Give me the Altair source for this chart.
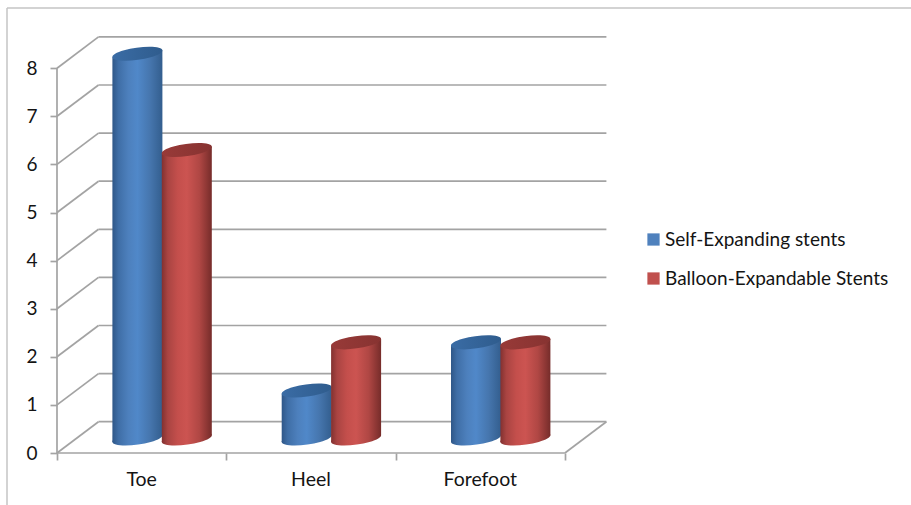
import altair as alt
import pandas as pd

# Chart values
categories = ["Toe", "Heel", "Forefoot"]
series_names = ["Self-Expanding stents", "Balloon-Expandable Stents"]
self_expanding = [8, 1, 2]
balloon_expandable = [6, 2, 2]
y_ticks = [0, 1, 2, 3, 4, 5, 6, 7, 8]
x_ticks = [0, 1, 2, 3]

# Pixel geometry of the pseudo-3D box
PX_CAT = 169.3      # pixels per category slot
PX_VAL = 48.1       # pixels per unit of value
DEPTH_X = 41.5 / PX_CAT
DEPTH_Y = 31.3 / PX_VAL
PLOT_W, PLOT_H = 550, 416
LEFT, TOP = 57, 37
BAR_W = 50 / PX_CAT
TILT = 3.4 / PX_VAL        # slant of the cylinder ends
LIFT = DEPTH_Y / 2 - 1.2 / PX_VAL  # cylinders stand mid-depth on the floor
RED_SHIFT = -0.6 / PX_CAT

FONT = "Lato"
GRID = "#a3a3a3"
FRAME = "#c4c4c4"
TEXT = "#141414"

x_scale = alt.Scale(domain=[0, PLOT_W / PX_CAT], nice=False, zero=False)
y_scale = alt.Scale(domain=[0, PLOT_H / PX_VAL], nice=False, zero=False)
x_axis = alt.Axis(
    values=x_ticks, labels=False, grid=False, domain=False, title=None,
    ticks=True, tickSize=7, tickColor=GRID, tickWidth=1.7,
)
y_axis = alt.Axis(
    values=y_ticks, grid=False, domain=False, title=None,
    tickColor=GRID, tickWidth=1.7, tickSize=7, labelFont=FONT,
    labelFontSize=19, labelColor=TEXT, labelPadding=13, format="d",
)
X = lambda f: alt.X(f, type="quantitative", scale=x_scale, axis=x_axis)
Y = lambda f: alt.Y(f, type="quantitative", scale=y_scale, axis=y_axis)


def segments(rows):
    return pd.DataFrame(rows, columns=["x", "y", "x2", "y2"])


# Back wall, side wall, front axis and floor lines
lines = segments(
    [(DEPTH_X, v + DEPTH_Y, 3 + DEPTH_X, v + DEPTH_Y) for v in y_ticks]
    + [(0, v, DEPTH_X, v + DEPTH_Y) for v in y_ticks]
    + [(0, 0, 3, 0), (3, 0, 3 + DEPTH_X, DEPTH_Y), (0, 0, 0, max(y_ticks))]
)
walls = alt.Chart(lines).mark_rule(color=GRID, strokeWidth=1.7, clip=False).encode(
    x=X("x"), x2="x2", y=Y("y"), y2="y2"
)

category_labels = alt.Chart(
    pd.DataFrame({"label": categories, "x": [i + 0.5 for i in range(len(categories))]})
).mark_text(font=FONT, fontSize=19.5, color=TEXT, clip=False).encode(
    x=X("x"), y=alt.value(PLOT_H + 27), text="label:N"
)

# Tilted ellipse used for both cylinder ends
ELLIPSE = "M-1,0.14A1.01,0.24,-8,1,1,1,-0.14A1.01,0.24,-8,1,1,-1,0.14Z"


def gradient(stops):
    return alt.Gradient(
        gradient="linear", x1=0, y1=0, x2=1, y2=0,
        stops=[alt.GradientStop(offset=o, color=c) for o, c in stops],
    )


BODY = [
    [(0, "#2f5788"), (0.12, "#3f6ea6"), (0.32, "#4d80bd"), (0.5, "#5088c9"),
     (0.75, "#4676ae"), (1, "#335e8e")],
    [(0, "#823130"), (0.12, "#a94442"), (0.32, "#c44f4c"), (0.5, "#cc5451"),
     (0.75, "#b04744"), (1, "#762c2a")],
]
CAP = [
    [(0, "#3a6ca5"), (1, "#2f5c8d")],
    [(0, "#983a38"), (1, "#873331")],
]


def cylinders(values, index):
    shift = RED_SHIFT * index
    centre = [i + 0.5 + DEPTH_X / 2 + (index - 0.5) * BAR_W + shift for i in range(len(values))]
    caps = pd.DataFrame({"x": centre, "top": [v + LIFT for v in values],
                         "base": [LIFT] * len(values)})
    point = dict(shape=ELLIPSE, size=2500, filled=True, strokeWidth=0, opacity=1, clip=False)
    layers = [
        alt.Chart(caps).mark_point(fill=gradient(BODY[index]), **point).encode(
            x=X("x"), y=Y("base")
        )
    ]
    for c, v in zip(centre, values):
        side = pd.DataFrame({
            "x": [c - BAR_W / 2, c + BAR_W / 2],
            "top": [v + LIFT - TILT, v + LIFT + TILT],
            "base": [LIFT - TILT, LIFT + TILT],
        })
        layers.append(
            alt.Chart(side).mark_area(
                color=gradient(BODY[index]), clip=False, interpolate="linear", orient="vertical"
            ).encode(x=X("x"), y=Y("top"), y2=alt.Y2("base"))
        )
    layers.append(
        alt.Chart(caps).mark_point(fill=gradient(CAP[index]), **point).encode(
            x=X("x"), y=Y("top")
        )
    )
    return alt.layer(*layers)


# Outer frame lines on the left and top of the figure
frame_left = alt.Chart(pd.DataFrame({"a": [0]})).mark_rule(color=FRAME, strokeWidth=1.5, clip=False).encode(
    x=alt.value(7 - LEFT), y=alt.value(8 - TOP), y2=alt.value(505 - TOP)
)
frame_top = alt.Chart(pd.DataFrame({"a": [0]})).mark_rule(color=FRAME, strokeWidth=1.5, clip=False).encode(
    y=alt.value(8 - TOP), x=alt.value(7 - LEFT), x2=alt.value(911 - LEFT)
)

# Zero-size marks that only carry the legend
legend_layer = alt.Chart(pd.DataFrame({"s": series_names, "x": [0, 0], "y": [0, 0]})).mark_square(size=0).encode(
    x=X("x"),
    y=Y("y"),
    color=alt.Color(
        "s:N",
        scale=alt.Scale(domain=series_names, range=["#4f81bd", "#c0504d"]),
        legend=alt.Legend(
            title=None, orient="none", legendX=644 - LEFT, legendY=230 - TOP,
            symbolType="square", symbolSize=150, symbolStrokeWidth=0, symbolOpacity=1,
            labelFont=FONT, labelFontSize=19, labelColor=TEXT, labelOffset=2,
            rowPadding=19, labelLimit=300,
        ),
    ),
)

chart = alt.layer(
    frame_left, frame_top, walls, category_labels,
    cylinders(self_expanding, 0), cylinders(balloon_expandable, 1), legend_layer,
).properties(
    width=PLOT_W,
    height=PLOT_H,
    padding={"left": LEFT, "top": TOP, "right": 911 - LEFT - PLOT_W, "bottom": 505 - TOP - PLOT_H},
    autosize=alt.AutoSizeParams(type="none"),
    background="white",
).configure_view(stroke=None)

chart.save("out.html", embed_options={"renderer": "svg", "actions": False})
